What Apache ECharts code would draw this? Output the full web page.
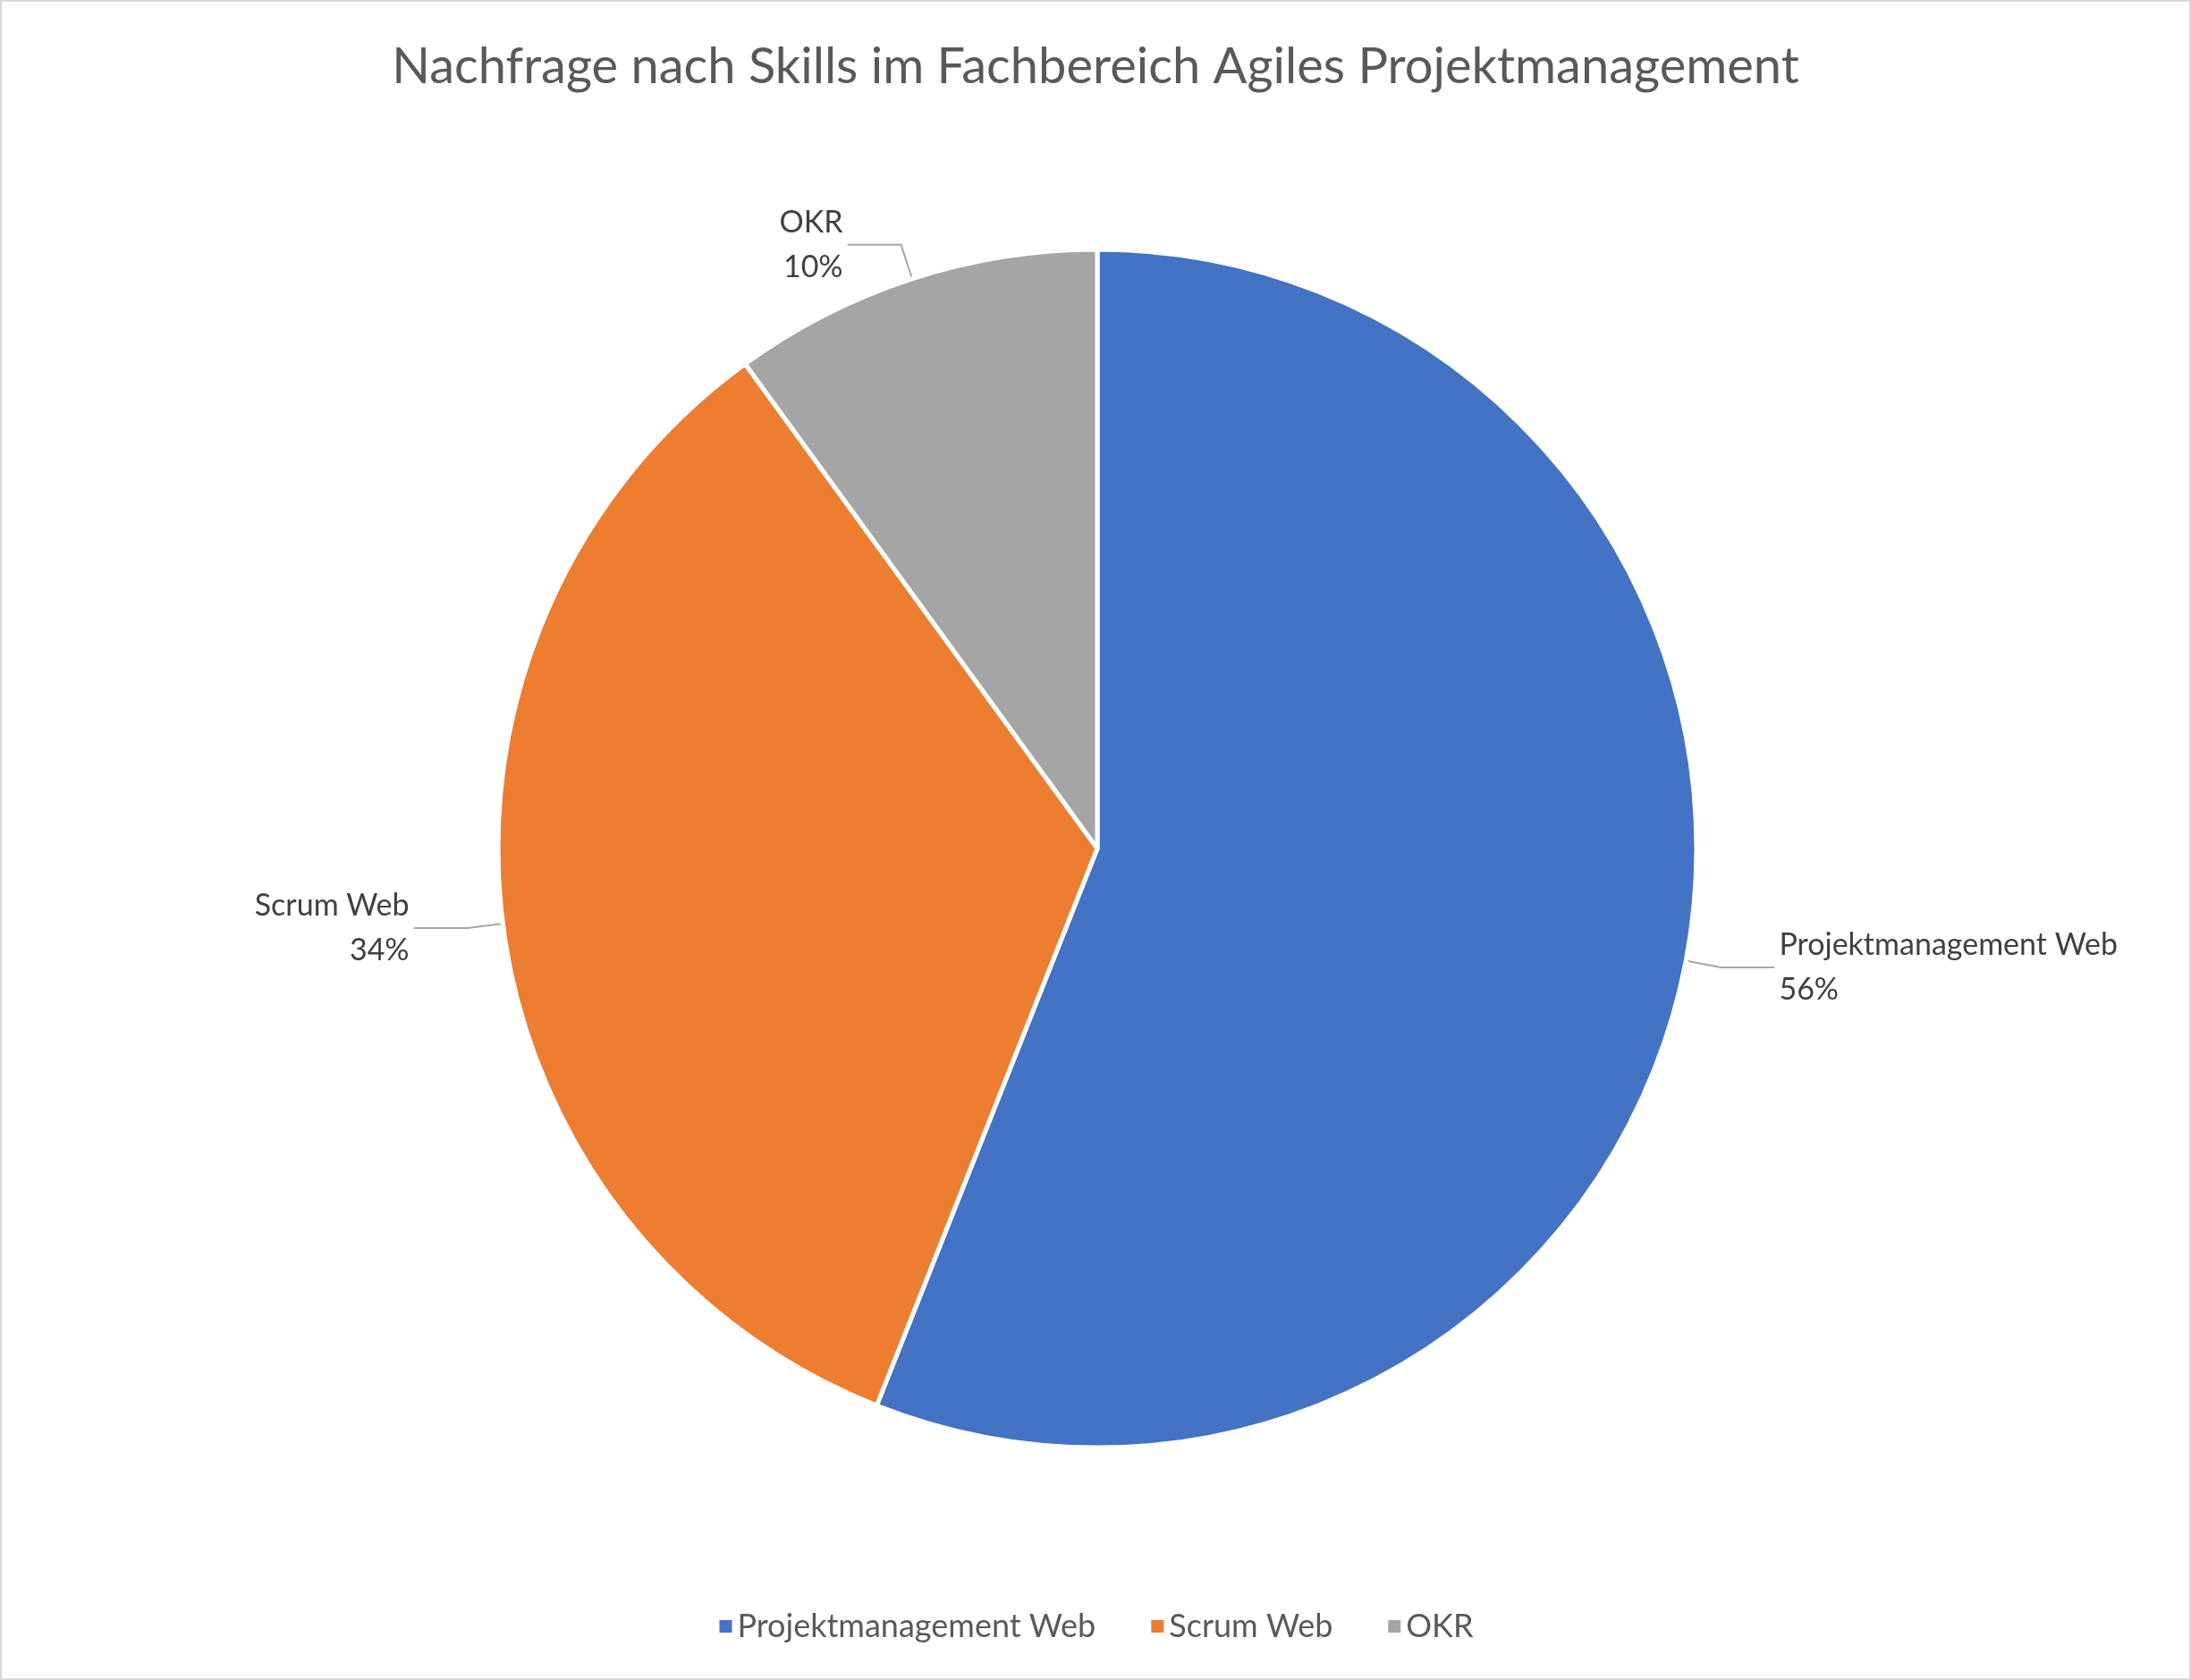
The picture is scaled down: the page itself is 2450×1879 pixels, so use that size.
<!DOCTYPE html>
<html><head><meta charset="utf-8">
<script src="https://cdn.jsdelivr.net/npm/echarts@6/dist/echarts.min.js"></script>
<style>html,body{margin:0;padding:0;background:#fff}#c{width:2446px;height:1875px;border:2px solid #d9d9d9}</style>
</head><body><div id="c"></div>
<script>
const categories = ["Projektmanagement Web", "Scrum Web", "OKR"];
const values = [56, 34, 10];
const colors = ["#4472C4", "#ED7D31", "#A5A5A5"];
const chart = echarts.init(document.getElementById('c'));
chart.setOption({
  title: {text: "Nachfrage nach Skills im Fachbereich Agiles Projektmanagement", left: 'center', top: 40,
    textStyle: {fontFamily: 'Lato', fontSize: 56, fontWeight: 'normal', color: '#595959'}},
  legend: {bottom: 35, itemWidth: 16, itemHeight: 16, itemGap: 60, icon: 'rect',
    textStyle: {fontFamily: 'Lato', fontSize: 36, color: '#595959'}},
  series: [{
    type: 'pie', center: [1225, 947], radius: [0, 670], startAngle: 90, clockwise: true,
    data: categories.map((n, i) => ({name: n, value: values[i], itemStyle: {color: colors[i]}})),
    itemStyle: {borderColor: '#fff', borderWidth: 5},
    label: {formatter: '{b}\n{d}%', fontFamily: 'Lato', fontSize: 34, color: '#404040', lineHeight: 50, align: 'center'},
    labelLine: {length: 40, length2: 60, lineStyle: {color: '#a6a6a6', width: 2}}
  }]
});
</script></body></html>
